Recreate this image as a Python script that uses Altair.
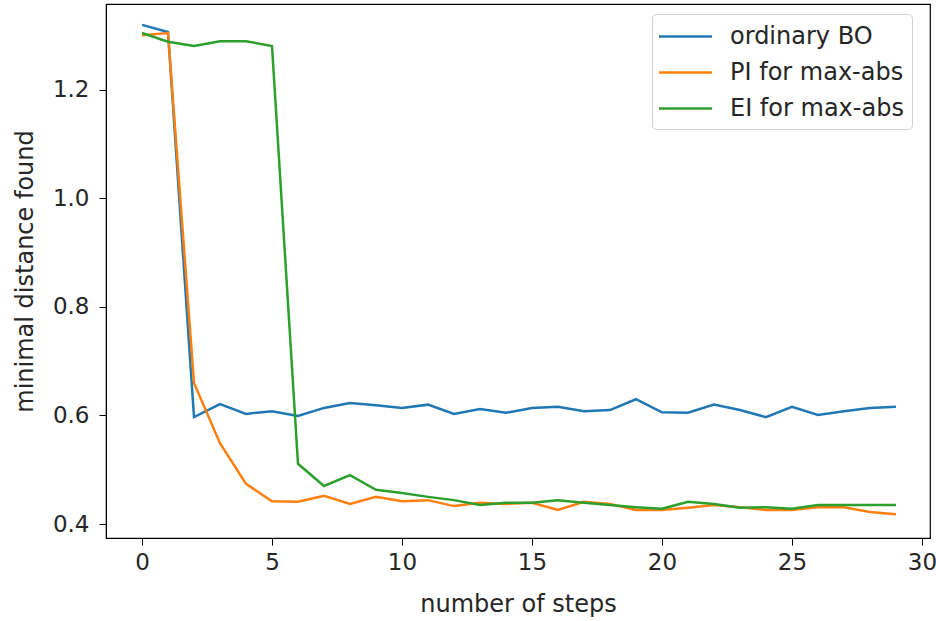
import altair as alt
import pandas as pd

steps = list(range(30))
ordinary_bo = [1.320, 1.307, 0.597, 0.621, 0.603, 0.608, 0.599, 0.614, 0.623, 0.619,
               0.614, 0.620, 0.603, 0.612, 0.605, 0.614, 0.616, 0.608, 0.610, 0.630,
               0.606, 0.605, 0.620, 0.610, 0.597, 0.616, 0.601, 0.608, 0.614, 0.616]
pi_maxabs = [1.301, 1.305, 0.660, 0.549, 0.474, 0.442, 0.441, 0.452, 0.437, 0.450,
             0.442, 0.444, 0.433, 0.439, 0.437, 0.439, 0.426, 0.441, 0.437, 0.426,
             0.426, 0.430, 0.435, 0.431, 0.426, 0.426, 0.431, 0.431, 0.422, 0.418]
ei_maxabs = [1.305, 1.289, 1.281, 1.290, 1.290, 1.281, 0.511, 0.470, 0.490, 0.463,
             0.457, 0.450, 0.444, 0.435, 0.439, 0.439, 0.444, 0.439, 0.435, 0.431,
             0.428, 0.441, 0.437, 0.430, 0.431, 0.428, 0.435, 0.435, 0.435, 0.435]
series_names = ["ordinary BO", "PI for max-abs", "EI for max-abs"]
series_colors = ["#1f77b4", "#ff7f0e", "#2ca02c"]
x_ticks = [0, 5, 10, 15, 20, 25, 30]
y_ticks = [0.4, 0.6, 0.8, 1.0, 1.2]

rows = []
for name, vals in zip(series_names, [ordinary_bo, pi_maxabs, ei_maxabs]):
    for s, v in zip(steps, vals):
        rows.append({"step": s, "value": v, "series": name})
df = pd.DataFrame(rows)

FONT = "DejaVu Sans"
FS = 24
TFS = 23
TXT = "#262626"

chart = alt.Chart(df).mark_line(strokeWidth=2.5).encode(
    x=alt.X("step:Q",
            scale=alt.Scale(domain=[-1.385, 30.31], nice=False, zero=False),
            axis=alt.Axis(values=x_ticks, title="number of steps", grid=False,
                          format="d", labelFontSize=TFS, titleFontSize=FS,
                          tickSize=7, labelPadding=6, titlePadding=18,
                          labelFont=FONT, titleFont=FONT, titleFontWeight="normal",
                          labelColor=TXT, titleColor=TXT,
                          domainColor="black", tickColor="black")),
    y=alt.Y("value:Q",
            scale=alt.Scale(domain=[0.3742, 1.3585], nice=False, zero=False),
            axis=alt.Axis(values=y_ticks, title="minimal distance found", grid=False,
                          format=".1f", labelFontSize=TFS, titleFontSize=FS,
                          tickSize=7, labelPadding=10, titlePadding=15,
                          labelFont=FONT, titleFont=FONT, titleFontWeight="normal",
                          labelColor=TXT, titleColor=TXT,
                          domainColor="black", tickColor="black")),
    color=alt.Color("series:N",
                    scale=alt.Scale(domain=series_names, range=series_colors),
                    sort=series_names,
                    legend=alt.Legend(title=None, orient="none", legendX=546, legendY=10,
                                      symbolType="M-2,0H2", symbolSize=702,
                                      symbolStrokeWidth=2.5, symbolOffset=11,
                                      labelFontSize=FS, labelLimit=400,
                                      labelFont=FONT, labelColor=TXT,
                                      labelOffset=30, rowPadding=9,
                                      padding=8, cornerRadius=4,
                                      strokeColor="#d0d0d0", fillColor="white")),
    detail="series:N",
).properties(
    width=824, height=534,
    autosize=alt.AutoSizeParams(type="none"),
    padding={"left": 106, "top": 4, "right": 6, "bottom": 83},
).configure_view(stroke="black", strokeWidth=1.2)

chart.save("out.html", embed_options={"renderer": "svg", "actions": False})
